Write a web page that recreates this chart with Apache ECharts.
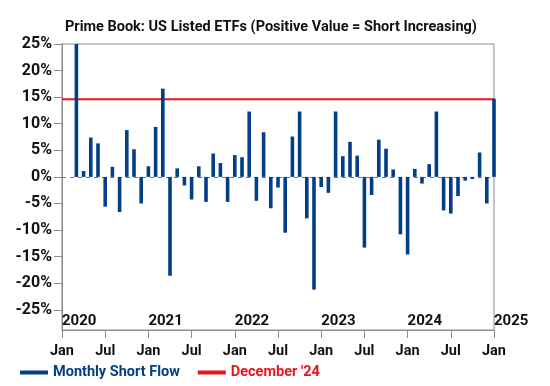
<!DOCTYPE html>
<html><head><meta charset="utf-8">
<script src="https://cdn.jsdelivr.net/npm/echarts@6/dist/echarts.min.js"></script>
<style>html,body{margin:0;padding:0;background:#fff}#c{width:550px;height:386px}</style>
</head><body><div id="c"></div>
<script>
// Month-end dates of each monthly observation
const months = [
  '2020-02','2020-03','2020-04','2020-05','2020-06','2020-07','2020-08','2020-09','2020-10','2020-11','2020-12',
  '2021-01','2021-02','2021-03','2021-04','2021-05','2021-06','2021-07','2021-08','2021-09','2021-10','2021-11','2021-12',
  '2022-01','2022-02','2022-03','2022-04','2022-05','2022-06','2022-07','2022-08','2022-09','2022-10','2022-11','2022-12',
  '2023-01','2023-02','2023-03','2023-04','2023-05','2023-06','2023-07','2023-08','2023-09','2023-10','2023-11','2023-12',
  '2024-01','2024-02','2024-03','2024-04','2024-05','2024-06','2024-07','2024-08','2024-09','2024-10','2024-11','2024-12'
];
// Monthly short flow, %
const shortFlow = [
  25.0, 1.1, 7.4, 6.3, -5.6, 1.9, -6.6, 8.8, 5.2, -5.0, 2.0,
  9.4, 16.6, -18.6, 1.6, -1.6, -4.25, 2.0, -4.7, 4.4, 2.6, -4.7, 4.1,
  3.7, 12.3, -4.5, 8.4, -5.9, -2.0, -10.5, 7.6, 12.3, -7.8, -21.2, -1.9,
  -3.0, 12.3, 3.9, 6.6, 4.0, -13.3, -3.4, 7.0, 5.3, 1.4, -10.8, -14.6,
  1.5, -1.25, 2.4, 12.3, -6.3, -6.9, -3.6, -0.7, -0.4, 4.6, -5.0, 14.7
];
const decemberLevel = 14.6;
const yTicks = [-25, -20, -15, -10, -5, 0, 5, 10, 15, 20, 25];
const startYear = 2020;
const monthTickLabels = ['Jan', 'Jul'];

// x position in months since Jan 2020 (month-end => end of that month)
function monthIndex(s) {
  const [y, m] = s.split('-').map(Number);
  return (y - startYear) * 12 + m;
}
const barData = months.map((m, i) => [monthIndex(m), shortFlow[i]]);

const FONT = 'Roboto, sans-serif';
const BLUE = '#023f86';
const RED = '#e8141b';

const chart = echarts.init(document.getElementById('c'));
chart.setOption({
  animation: false,
  title: {
    text: 'Prime Book: US Listed ETFs (Positive Value = Short Increasing)',
    left: 60, top: 15,
    textStyle: { fontFamily: FONT, fontWeight: 'bold', fontSize: 14.5, color: '#111' }
  },
  grid: { left: 62, right: 56, top: 44, bottom: 56, show: true, borderColor: '#8c8c8c', borderWidth: 1, backgroundColor: 'transparent' },
  legend: {
    left: 15, bottom: 1,
    itemWidth: 28, itemHeight: 4, itemGap: 18,
    textStyle: { fontFamily: FONT, fontWeight: 'bold', fontSize: 14.5 },
    data: [
      { name: 'Monthly Short Flow', icon: 'rect', textStyle: { color: BLUE } },
      { name: "December '24", icon: 'rect', textStyle: { color: RED } }
    ]
  },
  xAxis: [
    {
      type: 'value', min: 0, max: 60, interval: 6, position: 'bottom',
      axisLine: { show: true, onZero: false, lineStyle: { color: '#8c8c8c' } },
      axisTick: { show: true, length: 8, lineStyle: { color: '#8c8c8c' } },
      splitLine: { show: false },
      axisLabel: {
        margin: 14, color: '#111', fontFamily: FONT, fontWeight: 'bold', fontSize: 14.5,
        formatter: v => monthTickLabels[(v % 12) / 6]
      }
    },
    {
      type: 'value', min: 0, max: 60, interval: 12, position: 'bottom',
      axisLine: { show: false }, axisTick: { show: false }, splitLine: { show: false },
      axisLabel: {
        inside: true, margin: 1, align: 'left', color: '#111',
        fontFamily: FONT, fontWeight: 'bold', fontSize: 15,
        formatter: v => String(startYear + v / 12)
      }
    }
  ],
  yAxis: {
    type: 'value', min: -28.8, max: 25,
    axisLine: { show: true, onZero: false, lineStyle: { color: '#8c8c8c' } },
    axisTick: { show: true, length: 8, customValues: yTicks, lineStyle: { color: '#8c8c8c' } },
    splitLine: { show: false },
    axisLabel: {
      customValues: yTicks, margin: 10, color: '#111',
      fontFamily: FONT, fontWeight: 'bold', fontSize: 16,
      formatter: v => v + '%'
    }
  },
  series: [
    {
      name: 'Monthly Short Flow', type: 'bar', xAxisIndex: 0, barWidth: 3.6,
      itemStyle: { color: BLUE },
      data: barData,
      markLine: {
        silent: true, symbol: 'none', label: { show: false }, z: 1,
        lineStyle: { color: '#777', type: [4, 4], width: 1 },
        data: [{ yAxis: 0 }]
      },
      z: 4
    },
    {
      name: "December '24", type: 'line', xAxisIndex: 0, showSymbol: false, symbol: 'none',
      lineStyle: { color: RED, width: 2 }, itemStyle: { color: RED },
      data: [[0, decemberLevel], [60, decemberLevel]],
      z: 3
    }
  ]
});
</script></body></html>
